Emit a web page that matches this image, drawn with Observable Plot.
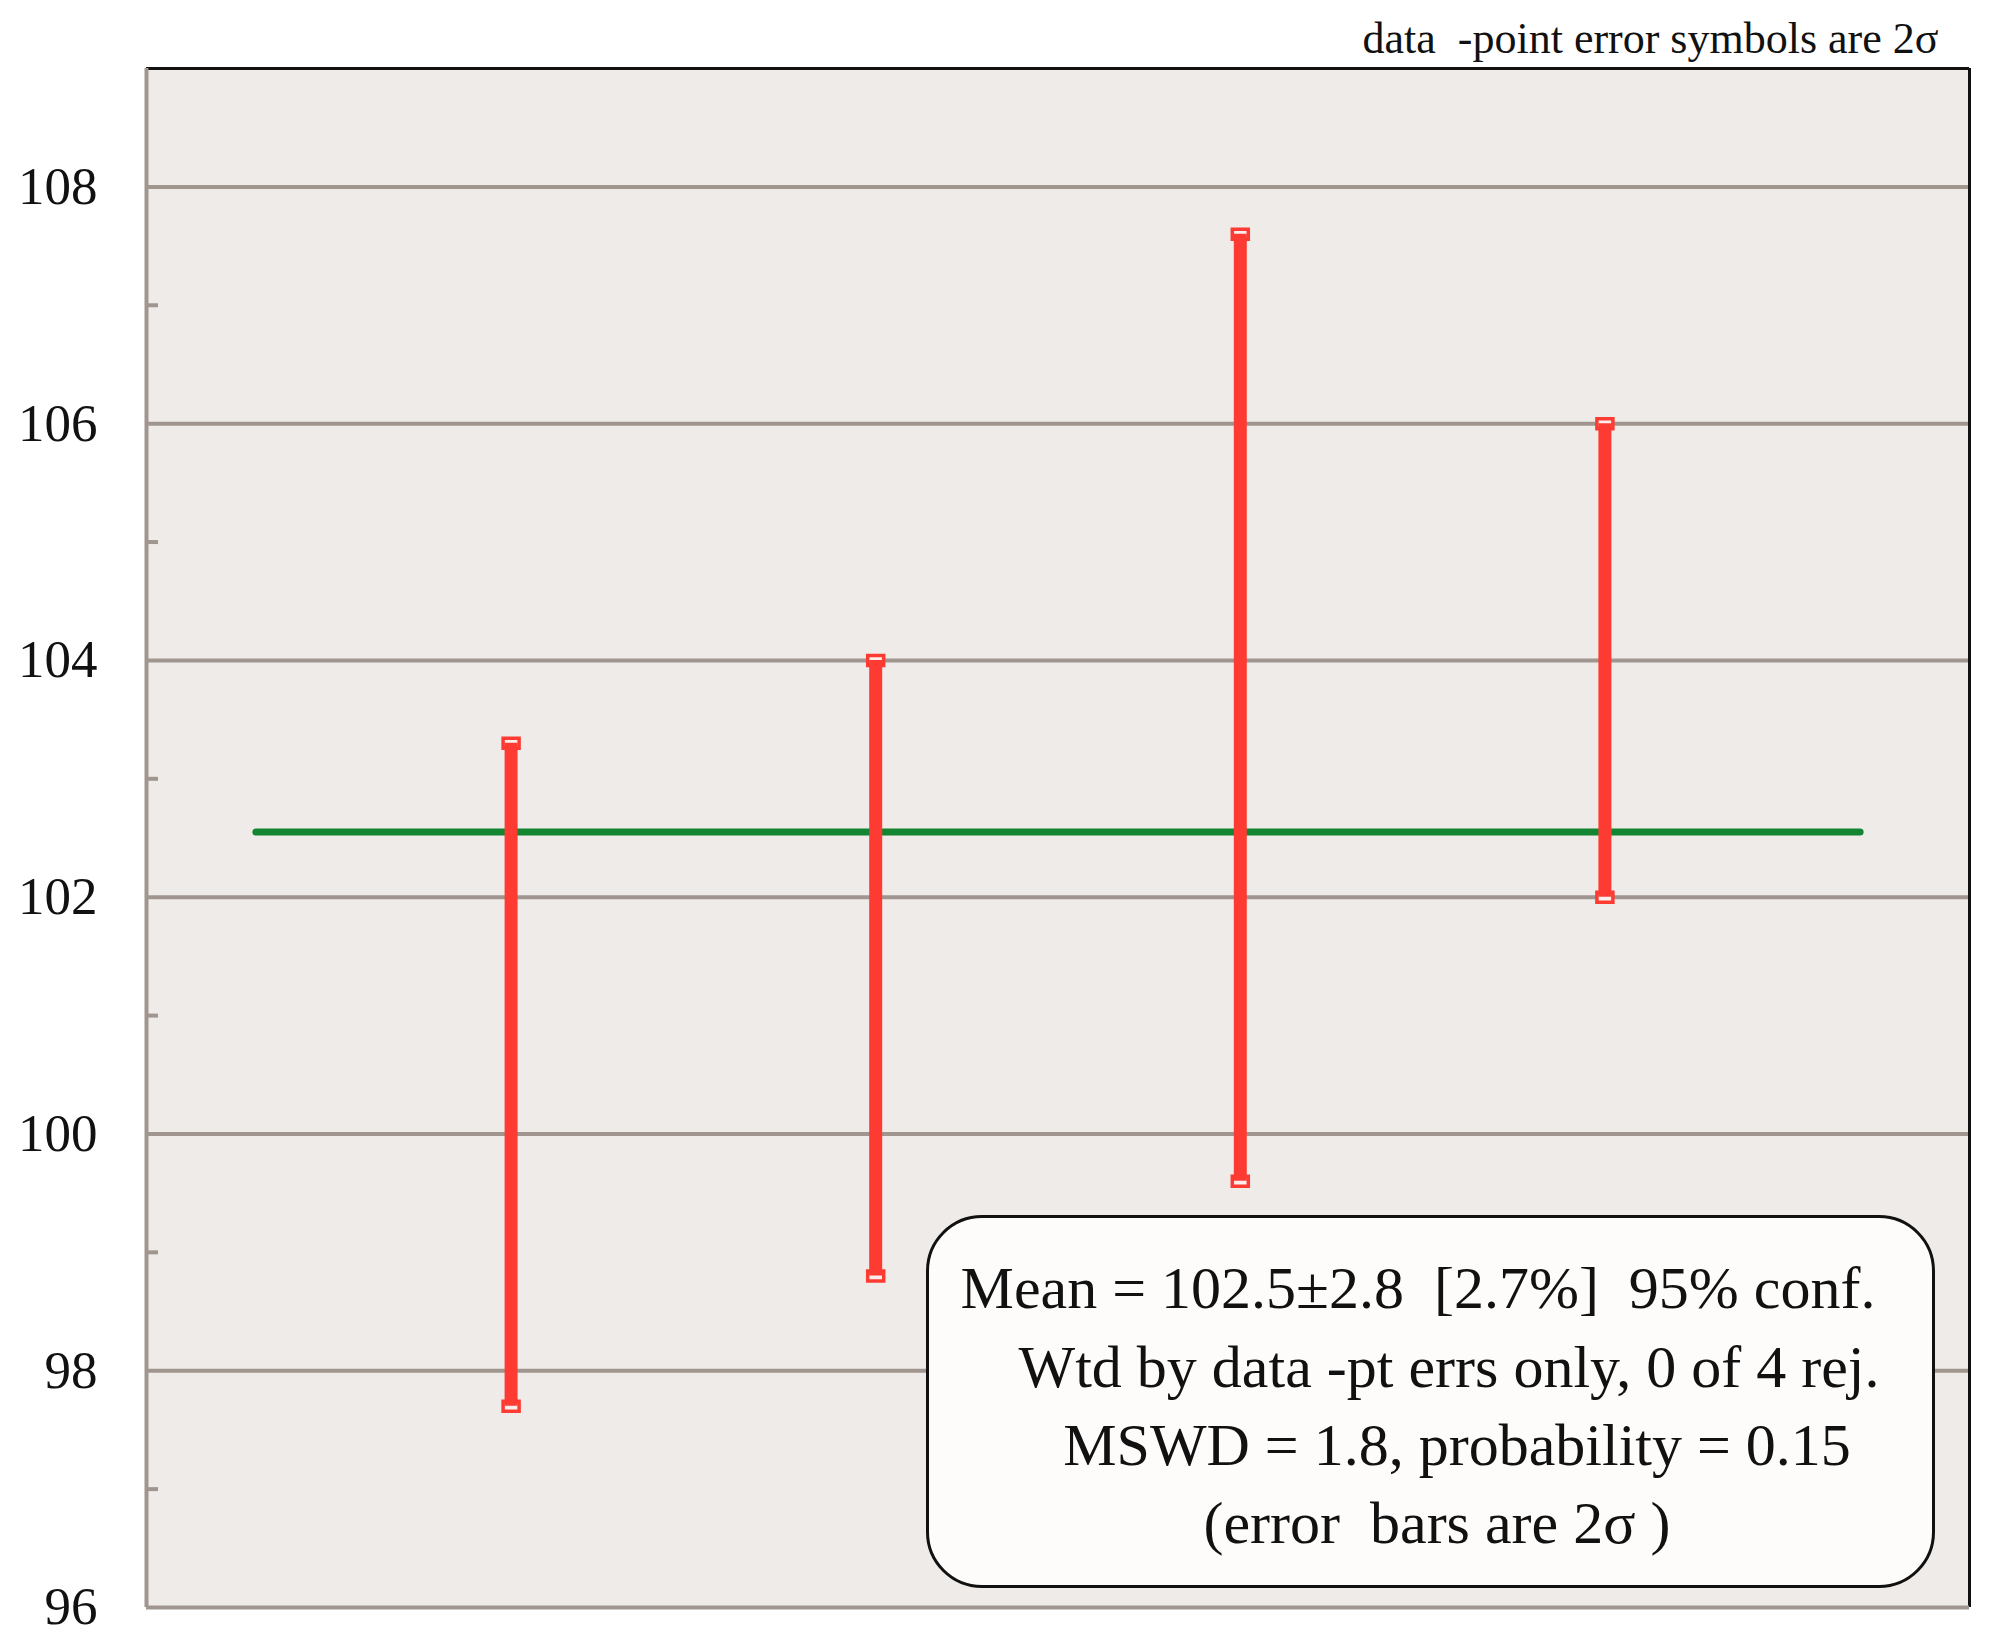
<!DOCTYPE html>
<html>
<head>
<meta charset="utf-8">
<script src="https://cdn.jsdelivr.net/npm/d3@7"></script>
<script src="https://cdn.jsdelivr.net/npm/@observablehq/plot@0.6"></script>
<style>
  html, body { margin: 0; padding: 0; background: #ffffff; }
  #wrap { position: relative; width: 1999px; height: 1647px; }
  #box {
    position: absolute; left: 926px; top: 1215px; width: 1003px; height: 367px;
    border: 3px solid #111; border-radius: 56px; background: #fdfcfb;
    font-family: "Liberation Serif", "DejaVu Serif", serif; font-size: 60px; color: #111;
  }
  #box .ln { position: absolute; white-space: pre; transform: translate(-50%, -50%); line-height: 1; }
</style>
</head>
<body>
<div id="wrap"></div>
<script>
// ---- data ----
const samples = [1, 2, 3, 4];
const upper = [103.3, 104.0, 107.6, 106.0];
const lower = [97.7, 98.8, 99.6, 102.0];
const meanValue = 102.55;
const meanStart = 0.3;
const meanEnd = 4.7;
const majorTicks = [96, 98, 100, 102, 104, 106, 108];
const gridTicks = [98, 100, 102, 104, 106, 108];
const minorTicks = [97, 99, 101, 103, 105, 107];
const topNote = "data  -point error symbols are 2σ";
const boxLines = [
  "Mean = 102.5±2.8  [2.7%]  95% conf.",
  "Wtd by data -pt errs only, 0 of 4 rej.",
  "MSWD = 1.8, probability = 0.15",
  "(error  bars are 2σ )"
];

const bars = samples.map((s, i) => ({s, lo: lower[i], hi: upper[i]}));
const ends = bars.flatMap(d => [{s: d.s, v: d.lo}, {s: d.s, v: d.hi}]);
const meanLine = [{x: meanStart, y: meanValue}, {x: meanEnd, y: meanValue}];

const red = "#fe3b33";
const grid = "#a1968f";
const capSymbol = { draw(ctx) { ctx.rect(-8, -5, 16, 10); } };

const chart = Plot.plot({
  width: 1999,
  height: 1647,
  marginLeft: 146,
  marginRight: 30,
  marginTop: 68,
  marginBottom: 40,
  style: { fontFamily: "'Liberation Serif', 'DejaVu Serif', serif", background: "#ffffff", color: "#111" },
  x: { domain: [0, 5], axis: null },
  y: { domain: [96, 109] },
  marks: [
    Plot.frame({ fill: "#efebe8", stroke: "none" }),
    Plot.gridY(gridTicks, { stroke: grid, strokeOpacity: 1, strokeWidth: 4 }),
    Plot.axisY(majorTicks, { tickSize: 0, tickPadding: 49, fontSize: 53, tickFormat: d => String(d) }),
    Plot.axisY(minorTicks, { tickSize: -12, stroke: grid, strokeWidth: 4, tickFormat: () => "" }),
    Plot.ruleY([109], { stroke: "#111", strokeWidth: 3 }),
    Plot.ruleX([5], { stroke: "#111", strokeWidth: 3 }),
    Plot.ruleY([96], { stroke: grid, strokeWidth: 4 }),
    Plot.ruleX([0], { stroke: grid, strokeWidth: 4 }),
    Plot.line(meanLine, { x: "x", y: "y", stroke: "#138430", strokeWidth: 7 }),
    Plot.dot(ends, { x: "s", y: "v", symbol: capSymbol, stroke: red, strokeWidth: 3.5, fill: "#fbeeec" }),
    Plot.ruleX(bars, { x: "s", y1: "lo", y2: "hi", stroke: red, strokeWidth: 13 }),
    Plot.text([topNote], { frameAnchor: "top-right", dx: -31, dy: -30, text: d => d, fontSize: 44, textAnchor: "end", lineAnchor: "middle", fill: "#111" })
  ]
});

const wrap = document.getElementById("wrap");
wrap.appendChild(chart);

const box = document.createElement("div");
box.id = "box";
const pos = [[489, 70], [520, 149], [528, 227], [508, 305]];
boxLines.forEach((t, i) => {
  const s = document.createElement("span");
  s.className = "ln";
  s.textContent = t;
  s.style.left = pos[i][0] + "px";
  s.style.top = pos[i][1] + "px";
  box.appendChild(s);
});
wrap.appendChild(box);
</script>
</body>
</html>
